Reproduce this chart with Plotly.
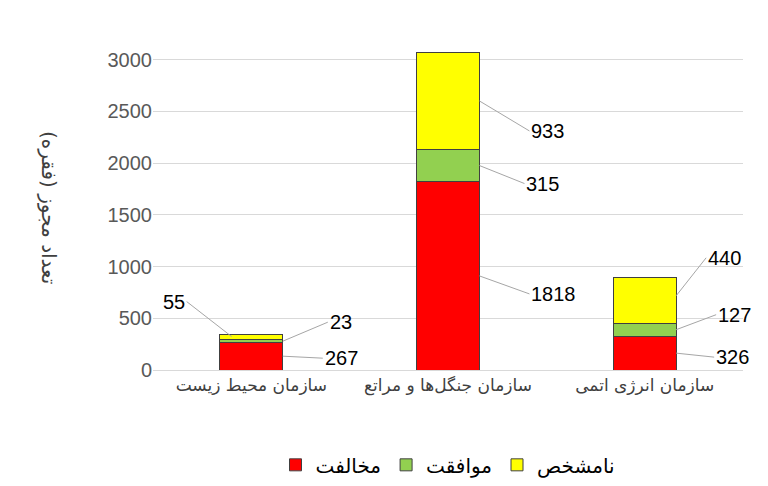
import plotly.graph_objects as go

categories = ["سازمان محیط زیست", "سازمان جنگل‌ها و مراتع", "سازمان انرژی اتمی"]
opposed = [267, 1818, 326]
agreed = [23, 315, 127]
unknown = [55, 933, 440]
series_names = ["مخالفت", "موافقت", "نامشخص"]
colors = ["#FF0000", "#92D050", "#FFFF00"]

fig = go.Figure()
for name, vals, col in zip(series_names, [opposed, agreed, unknown], colors):
    fig.add_trace(go.Bar(x=list(range(3)), y=vals, name=name, marker_color=col,
                         marker_line_color="#404040", marker_line_width=1, width=0.32))

# label offsets (pixels) for leader lines: (series, category) -> (tip x offset, tip frac, ax, ay)
offsets = {
    (0, 0): (0.16, 0.5, 40, 2), (1, 0): (0.16, 0.5, 45, -19), (2, 0): (-0.1, 0.6, -45, -35),
    (0, 1): (0.16, 0.5, 50, 18), (1, 1): (0.16, 0.5, 45, 18), (2, 1): (0.16, 0.5, 50, 30),
    (0, 2): (0.16, 0.5, 38, 4), (1, 2): (0.16, 0.5, 40, -15), (2, 2): (0.16, 0.6, 30, -38),
}
stacks = [opposed, agreed, unknown]
for (s, c), (dx, frac, ax, ay) in offsets.items():
    base = sum(stacks[k][c] for k in range(s))
    fig.add_annotation(x=c + dx, y=base + stacks[s][c] * frac, text=str(stacks[s][c]),
                       showarrow=True, arrowhead=0, arrowwidth=1, arrowcolor="#A6A6A6",
                       ax=ax, ay=ay, xanchor="left" if ax > 0 else "right",
                       font=dict(size=20, color="black", family="Liberation Sans"))

fig.add_annotation(text="تعداد مجوز (فقره)", xref="paper", yref="paper", x=-0.2, y=0.5,
                   textangle=90, showarrow=False,
                   font=dict(size=20, color="#404040", family="DejaVu Sans"))

fig.update_layout(
    barmode="stack",
    width=768, height=486,
    margin=dict(l=145, r=33, t=36, b=124, autoexpand=False),
    plot_bgcolor="white", paper_bgcolor="white",
    xaxis=dict(tickvals=list(range(3)), ticktext=categories, range=[-0.5, 2.5],
               showline=True, linecolor="#D9D9D9",
               tickfont=dict(size=17, color="#404040", family="DejaVu Sans")),
    yaxis=dict(range=[0, 3150], tickvals=[0, 500, 1000, 1500, 2000, 2500, 3000],
               gridcolor="#D9D9D9", zeroline=False,
               tickfont=dict(size=20, color="#595959", family="Liberation Sans")),
    legend=dict(orientation="h", x=0.5, xanchor="center", yref="container", y=0.06,
                yanchor="middle", traceorder="normal",
                font=dict(size=20, color="black", family="DejaVu Sans")),
)
fig.write_html("out.html")
